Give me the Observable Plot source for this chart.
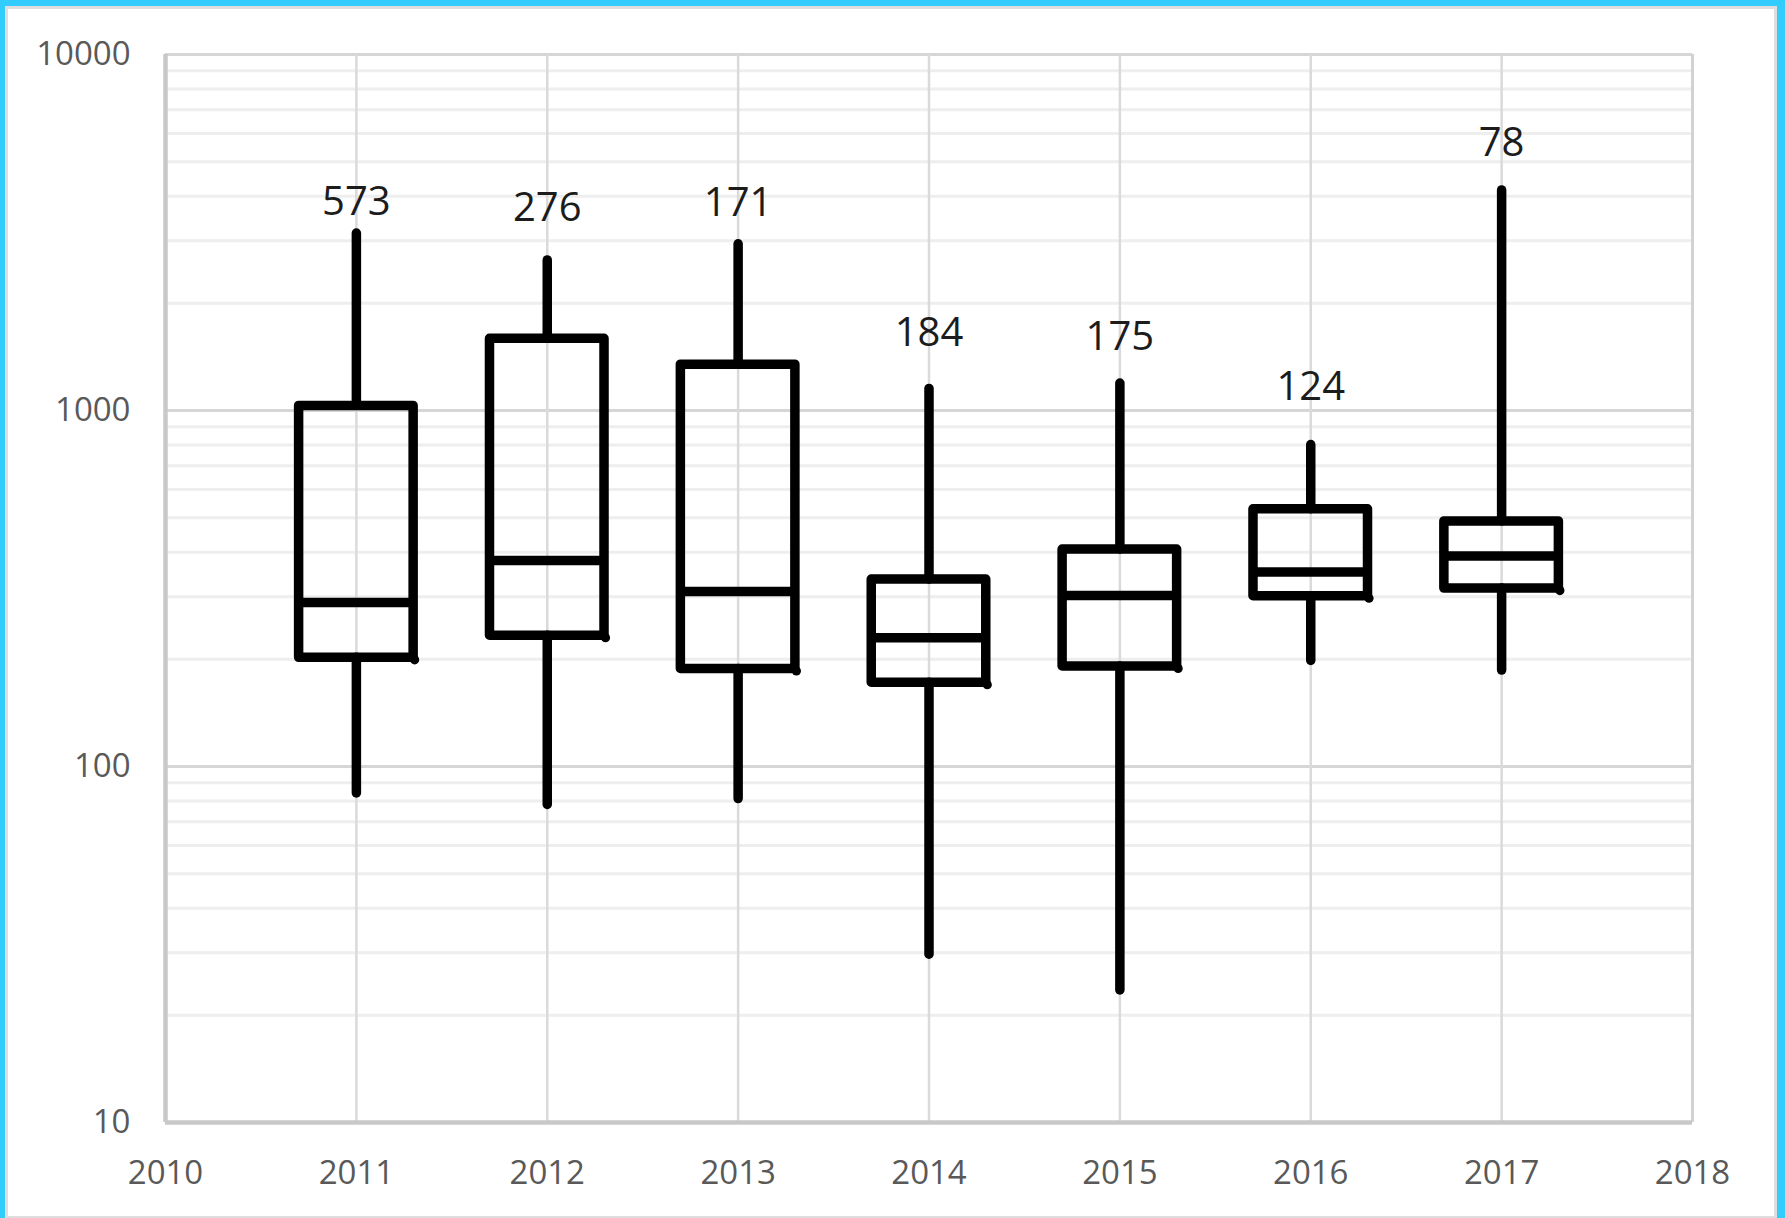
<!DOCTYPE html>
<html>
<head>
<meta charset="utf-8">
<script src="https://cdn.jsdelivr.net/npm/d3@7"></script>
<script src="https://cdn.jsdelivr.net/npm/@observablehq/plot@0.6"></script>
<style>
  html, body { margin: 0; padding: 0; background: #ffffff; }
  #wrap { position: relative; width: 1785px; height: 1218px; overflow: hidden; background: #ffffff; }
  #chart { position: absolute; left: 0; top: 0; }
  #frame {
    position: absolute; left: 0; top: 0; width: 1785px; height: 1218px; box-sizing: border-box;
    border-left: 5px solid #33ccff; border-top: 6px solid #33ccff; border-right: 8px solid #33ccff;
    pointer-events: none;
  }
  #frame-inner {
    position: absolute; inset: 0; box-sizing: border-box;
    border: 3px solid #dedede; border-bottom-width: 2px;
  }
</style>
</head>
<body>
<div id="wrap">
  <div id="chart"></div>
  <div id="frame"><div id="frame-inner"></div></div>
</div>
<script>
// Box-and-whisker summary per year (log scale)
const years        = [2011, 2012, 2013, 2014, 2015, 2016, 2017];
const whiskerHigh  = [3140, 2640, 2930, 1150, 1190, 800, 4150];
const q3           = [1030, 1590, 1345, 335, 407, 528, 488];
const median       = [289, 379, 310, 230, 302, 352, 390];
const q1           = [202, 233, 188, 172, 191, 301, 316];
const whiskerLow   = [84, 78, 81, 29.6, 23.5, 198, 186];

// Sample counts printed above each box, and the value each count label sits at
const counts       = [573, 276, 171, 184, 175, 124, 78];
const countLabelAt = [3840, 3690, 3815, 1645, 1603, 1160, 5620];

// Axis ticks
const xTicks      = [2010, 2011, 2012, 2013, 2014, 2015, 2016, 2017, 2018];
const yMajorTicks = [10, 100, 1000, 10000];
const yMinorTicks = [20, 30, 40, 50, 60, 70, 80, 90,
                     200, 300, 400, 500, 600, 700, 800, 900,
                     2000, 3000, 4000, 5000, 6000, 7000, 8000, 9000];

const halfWidth = 0.3;
const rows = years.map((year, i) => ({
  year,
  x1: year - halfWidth,
  x2: year + halfWidth,
  high: whiskerHigh[i],
  q3: q3[i],
  median: median[i],
  q1: q1[i],
  low: whiskerLow[i],
  n: counts[i],
  labelAt: countLabelAt[i]
}));

const boxStroke = 9.5;
const gridGray = "#d6d6d6";
const tickGray = "#595959";

const chart = Plot.plot({
  width: 1785,
  height: 1218,
  marginLeft: 165,
  marginRight: 93,
  marginTop: 54,
  marginBottom: 96,
  style: { fontFamily: "'Open Sans', 'Liberation Sans', sans-serif", background: "transparent", overflow: "visible" },
  x: { domain: [2010, 2018], axis: null },
  y: { type: "log", domain: [10, 10000], axis: null },
  marks: [
    // gridlines
    Plot.gridY({ ticks: yMinorTicks, stroke: "#eeeeee", strokeOpacity: 1, strokeWidth: 3 }),
    Plot.gridY({ ticks: yMajorTicks, stroke: gridGray, strokeOpacity: 1, strokeWidth: 3 }),
    Plot.gridX({ ticks: years, stroke: "#dadada", strokeOpacity: 1, strokeWidth: 2.5 }),
    Plot.ruleX([2018], { stroke: "#d2d2d2", strokeWidth: 3 }),
    // axis lines
    Plot.ruleX([2010], { stroke: "#c8c8c8", strokeWidth: 4.5 }),
    Plot.ruleY([10], { stroke: "#c8c8c8", strokeWidth: 4.5 }),
    // axes
    Plot.axisY({ ticks: yMajorTicks, tickFormat: d => String(d), tickSize: 0, tickPadding: 35,
                 fontSize: 33, color: tickGray }),
    Plot.axisX({ ticks: xTicks, tickFormat: d => String(d), tickSize: 0, tickPadding: 38,
                 fontSize: 33, color: tickGray }),
    // whiskers
    Plot.ruleX(rows, { x: "year", y1: "q3", y2: "high", stroke: "#000", strokeWidth: boxStroke, strokeLinecap: "round" }),
    Plot.ruleX(rows, { x: "year", y1: "low", y2: "q1", stroke: "#000", strokeWidth: boxStroke, strokeLinecap: "round" }),
    // boxes (open, so the gridlines show through)
    Plot.rect(rows, { x1: "x1", x2: "x2", y1: "q1", y2: "q3", fill: "none", stroke: "#000",
                      strokeWidth: boxStroke, strokeLinejoin: "round" }),
    Plot.ruleY(rows, { y: "median", x1: "x1", x2: "x2", stroke: "#000", strokeWidth: boxStroke }),
    // small rounded nub at each box's lower-right corner
    Plot.dot(rows, { x: "x2", y: "q1", r: 4.6, fill: "#000", stroke: "none", dx: 1, dy: 2 }),
    // sample counts
    Plot.text(rows, { x: "year", y: "labelAt", text: d => String(d.n), fontSize: 40, fill: "#1c1c1c" })
  ]
});

document.getElementById("chart").appendChild(chart);
</script>
</body>
</html>
